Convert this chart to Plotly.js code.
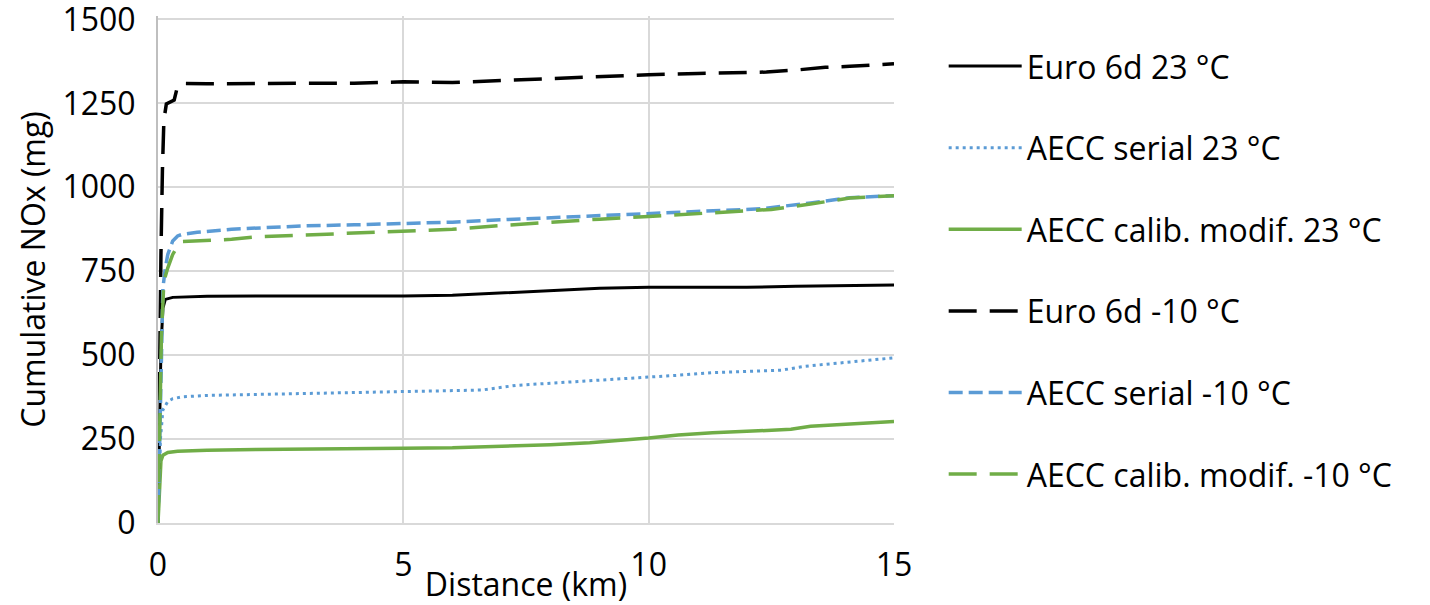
<!DOCTYPE html>
<html>
<head>
<meta charset="utf-8">
<script src="https://cdn.plot.ly/plotly-3.0.1.min.js"></script>
<style>html,body{margin:0;padding:0;background:#fff;}#chart{width:1430px;height:605px;}</style>
</head>
<body>
<div id="chart"></div>
<script>
// Series names (legend)
const seriesNames = ["Euro 6d 23 °C", "AECC serial 23 °C", "AECC calib. modif. 23 °C",
                     "Euro 6d -10 °C", "AECC serial -10 °C", "AECC calib. modif. -10 °C"];

// Euro 6d 23 °C
const e23_x = [0, 0.03, 0.06, 0.1, 0.15, 0.3, 1, 2, 3, 4, 5, 6, 7, 8, 9, 10, 11, 12, 13, 14, 15];
const e23_y = [0, 300, 520, 640, 666, 672, 675, 676, 676, 675, 676, 678, 685, 691, 699, 702, 702, 702, 705, 708, 709];

// AECC serial 23 °C
const s23_x = [0, 0.02, 0.05, 0.1, 0.2, 0.3, 0.5, 1, 2, 3, 4, 5, 6, 6.6, 7.3, 8, 8.6, 9.3, 10, 10.6, 11.3, 12, 12.7, 13.2, 14, 14.5, 15];
const s23_y = [0, 100, 250, 337, 362, 370, 376, 380, 383, 385, 388, 390, 393, 396, 410, 416, 423, 428, 433, 440, 448, 452, 455, 467, 478, 486, 492];

// AECC calib. modif. 23 °C
const c23_x = [0, 0.03, 0.06, 0.1, 0.2, 0.4, 1, 2, 3, 4, 5, 6, 7, 8, 8.8, 9.5, 10, 10.6, 11.3, 12, 12.9, 13.3, 14, 15];
const c23_y = [0, 120, 185, 202, 210, 214, 217, 219, 221, 222, 223, 224, 228, 233, 239, 246, 253, 262, 269, 273, 279, 288, 293, 302];

// Euro 6d -10 °C
const e10_x = [0, 0.015, 0.03, 0.06, 0.09, 0.12, 0.17, 0.25, 0.33, 0.38, 0.45, 0.55, 1, 2, 3, 4, 5, 6, 7, 8, 9, 10, 11, 11.9, 12.4, 13, 13.6, 14.1, 14.6, 15];
const e10_y = [0, 250, 500, 800, 1050, 1200, 1248, 1255, 1260, 1290, 1307, 1309, 1308, 1309, 1309, 1310, 1314, 1312, 1318, 1324, 1330, 1335, 1339, 1340, 1343, 1349, 1357, 1360, 1365, 1368];

// AECC serial -10 °C
const s10_x = [0, 0.03, 0.07, 0.1, 0.15, 0.2, 0.3, 0.4, 0.5, 0.8, 1.5, 2.3, 3, 4, 5, 6, 7, 8, 9, 10, 11.4, 12.3, 13.3, 14.1, 15];
const s10_y = [0, 250, 560, 700, 760, 800, 840, 855, 860, 866, 875, 881, 885, 888, 891, 896, 903, 909, 915, 921, 929, 936, 953, 969, 975];

// AECC calib. modif. -10 °C
const c10_x = [0, 0.03, 0.07, 0.12, 0.2, 0.3, 0.36, 0.42, 0.5, 0.8, 1.5, 2, 3, 4, 5, 6, 7, 8, 9, 10, 11.4, 12.5, 13.3, 14.1, 15];
const c10_y = [0, 250, 560, 720, 760, 800, 815, 830, 838, 840, 845, 852, 858, 862, 869, 875, 886, 896, 905, 913, 924, 934, 950, 968, 975];

// Axis ticks
const xTicks = [0, 5, 10, 15];
const yTicks = [0, 250, 500, 750, 1000, 1250, 1500];

const BLACK = "#000000", BLUE = "#5B9BD5", GREEN = "#70AD47";
const FONT = "Open Sans, sans-serif";
const FS = 32;

function tr(x, y, name, color, dash, width, g) {
  return {x: x, y: y, name: name, type: "scatter", mode: "lines",
          legendgroup: g,
          line: {color: color, dash: dash, width: width}};
}

const data = [
  tr(e23_x, e23_y, seriesNames[0], BLACK, "solid", 3, "g1"),
  tr(s23_x, s23_y, seriesNames[1], BLUE, "3px,4px", 3, "g2"),
  tr(c23_x, c23_y, seriesNames[2], GREEN, "solid", 3.5, "g3"),
  tr(e10_x, e10_y, seriesNames[3], BLACK, "28px,13px", 3.5, "g4"),
  tr(s10_x, s10_y, seriesNames[4], BLUE, "14px,6px", 3.5, "g5"),
  tr(c10_x, c10_y, seriesNames[5], GREEN, "28px,13px", 3.5, "g6")
];

const layout = {
  width: 1430, height: 605,
  paper_bgcolor: "#fff", plot_bgcolor: "#fff",
  margin: {l: 158, r: 536, t: 15.6, b: 82, pad: 0},
  font: {family: FONT, size: FS, color: "#000"},
  showlegend: true,
  legend: {
    x: 1.0675, y: 0.955, xanchor: "left", yanchor: "top",
    font: {family: FONT, size: FS, color: "#000"},
    tracegroupgap: 37, itemwidth: 73,
    bgcolor: "rgba(0,0,0,0)", borderwidth: 0
  },
  xaxis: {
    range: [0, 15], tickvals: xTicks, ticktext: xTicks.map(String),
    showgrid: true, gridcolor: "#D9D9D9", gridwidth: 2,
    zeroline: false, showline: true, linecolor: "#D9D9D9", linewidth: 2,
    ticks: "", ticklabelstandoff: 13,
    tickfont: {family: FONT, size: FS, color: "#000"},
    title: {text: "Distance (km)", font: {family: FONT, size: FS, color: "#000"}, standoff: 12},
    fixedrange: true
  },
  yaxis: {
    range: [0, 1510], tickvals: yTicks, ticktext: yTicks.map(String),
    showgrid: true, gridcolor: "#D9D9D9", gridwidth: 2,
    zeroline: false, showline: true, linecolor: "#BFBFBF", linewidth: 2,
    ticks: "", ticklabelstandoff: 14, ticklabeloverflow: "allow",
    tickfont: {family: FONT, size: FS, color: "#000"},
    title: {text: "Cumulative NOx (mg)", font: {family: FONT, size: FS, color: "#000"}, standoff: 7},
    fixedrange: true
  }
};

Plotly.newPlot("chart", data, layout, {displayModeBar: false, staticPlot: true});
</script>
</body>
</html>
